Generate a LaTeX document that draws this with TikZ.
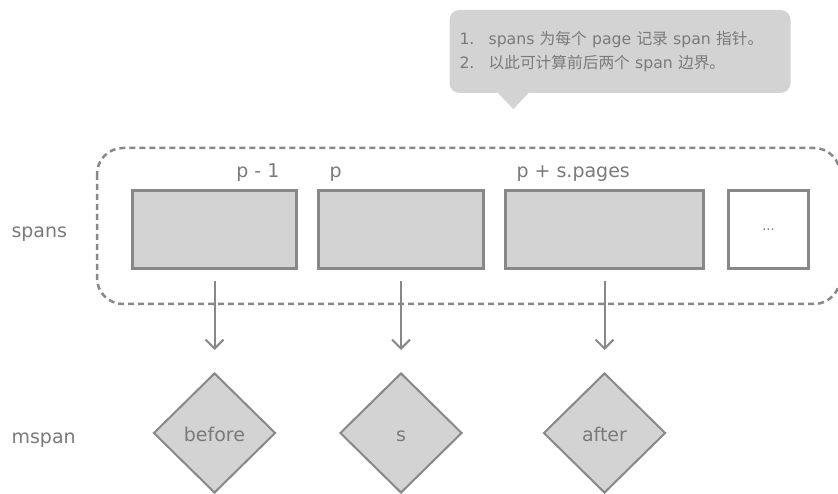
\documentclass[tikz,border=0pt]{standalone}
\usepackage{fontspec}
\setmainfont{DejaVu Sans}
\newfontfamily\cjk{Noto Sans CJK SC}
\usetikzlibrary{shapes.geometric, arrows.meta}

\definecolor{boxgray}{RGB}{211,211,211}
\definecolor{linegray}{RGB}{136,136,136}
\definecolor{textgray}{RGB}{122,122,122}

\begin{document}
\begin{tikzpicture}[x=1pt, y=-1pt, text=textgray, font=\fontsize{19}{23}\selectfont]
    \tikzstyle{pagebox} = [rectangle, draw=linegray, line width=3pt, fill=boxgray, minimum height=78pt, inner sep=0pt]
    \tikzstyle{mspanbox} = [diamond, draw=linegray, line width=2pt, fill=boxgray, minimum width=122pt, minimum height=120pt,
        inner sep=0pt, text height=16pt, text depth=0pt]
    \tikzstyle{link} = [draw=linegray, line width=2pt, -{Straight Barb[length=9pt, width=18pt]}, shorten <=11pt, shorten >=22pt]

    \useasboundingbox (0,0) rectangle (838,494);

    % note
    \node (note) at (620,51.5) [rectangle, fill=boxgray, rounded corners=10pt, minimum width=341pt, minimum height=83pt,
        inner xsep=10pt, text width=321pt, align=left, font=\fontsize{15.7}{24}\selectfont]
        {1.\hspace{0.9em}spans {\cjk 为每个} page {\cjk 记录} span {\cjk 指针。}\\
         2.\hspace{0.9em}{\cjk 以此可计算前后两个} span {\cjk 边界。}};
    \fill [boxgray] (note.south west) ++(48,-1) -- ++(32,0) -- ++(-16,17) -- cycle;

    % spans
    \draw [linegray, line width=2.5pt, dash pattern=on 6pt off 4pt, rounded corners=26pt] (97,148) rectangle (840,304);

    \node (spanslabel) at (8,238) [anchor=base west] {spans};
    \node (mspanlabel) at (8,443) [anchor=base west] {mspan};

    \node (prev) at (214.5,230) [pagebox, minimum width=164pt] {};
    \node (cur) at (401,230) [pagebox, minimum width=165pt] {};
    \node (next) at (604.5,230) [pagebox, minimum width=198pt] {};
    \node (more) at (768.5,230) [pagebox, fill=white, minimum width=80pt, font=\fontsize{13}{15}\selectfont] {...};

    \node (lprev) at (283,178) [anchor=base east] {p - 1};
    \node (lcur) at (326,178) [anchor=base west] {p};
    \node (lnext) at (513,178) [anchor=base west] {p + s.pages};

    % mspan
    \node (before) at (214.5,433) [mspanbox] {before};
    \node (s) at (401,433) [mspanbox] {s};
    \node (after) at (604.5,433) [mspanbox] {after};

    \draw [link] (prev.south) -- (before.north);
    \draw [link] (cur.south) -- (s.north);
    \draw [link] (next.south) -- (after.north);
\end{tikzpicture}
\end{document}
